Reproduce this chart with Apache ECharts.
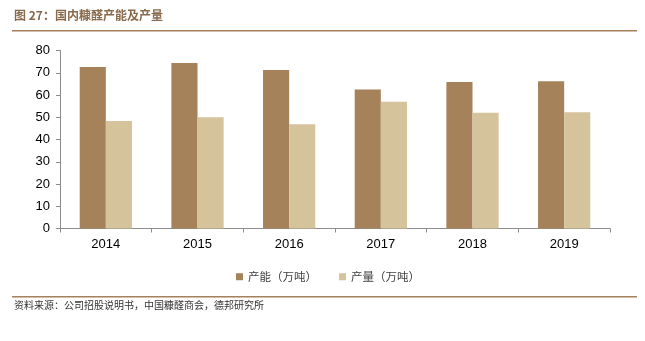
<!DOCTYPE html>
<html>
<head>
<meta charset="utf-8">
<script src="https://cdn.jsdelivr.net/npm/echarts@6/dist/echarts.min.js"></script>
<style>
  html, body { margin: 0; padding: 0; background: #fff; }
  #chart { width: 645px; height: 341px; }
</style>
</head>
<body>
<div id="chart"></div>
<script>
// Furfural capacity and output in China, 2014-2019 (10k tonnes)
const years = ['2014', '2015', '2016', '2017', '2018', '2019'];
const capacity = [72.6, 74.4, 71.2, 62.5, 65.8, 66.2];
const output = [48.3, 50.0, 46.9, 57.0, 52.0, 52.3];
const yTicks = [0, 10, 20, 30, 40, 50, 60, 70, 80];
const seriesNames = ['产能（万吨）', '产量（万吨）'];

const titleText = '图 27：国内糠醛产能及产量';
const sourceText = '资料来源：公司招股说明书，中国糠醛商会，德邦研究所';

const cjk = '"Noto Sans CJK SC", "Noto Sans", sans-serif';
const latin = '"Liberation Sans", Arial, sans-serif';

const chart = echarts.init(document.getElementById('chart'), null, { renderer: 'canvas' });

chart.setOption({
  animation: false,
  backgroundColor: '#ffffff',
  grid: { left: 60, right: 35, top: 50.5, bottom: 341 - 228.5, containLabel: false },
  legend: {
    data: seriesNames,
    left: 231,
    top: 266,
    icon: 'rect',
    itemWidth: 7,
    itemHeight: 7,
    itemGap: 22,
    textStyle: { fontFamily: cjk, fontSize: 11.5, color: '#404040' }
  },
  xAxis: {
    type: 'category',
    data: years,
    axisLine: { lineStyle: { color: '#8c8c8c', width: 1 } },
    axisTick: { show: true, alignWithLabel: false, length: 4, lineStyle: { color: '#8c8c8c' } },
    axisLabel: { fontFamily: latin, fontSize: 13, color: '#000', margin: 9 }
  },
  yAxis: {
    type: 'value',
    min: yTicks[0],
    max: yTicks[yTicks.length - 1],
    interval: 10,
    splitLine: { show: false },
    axisLine: { show: true, lineStyle: { color: '#8c8c8c', width: 1 } },
    axisTick: { show: true, length: 4, lineStyle: { color: '#8c8c8c' } },
    axisLabel: { fontFamily: latin, fontSize: 13, color: '#000', margin: 10 }
  },
  series: [
    {
      name: seriesNames[0],
      type: 'bar',
      data: capacity,
      barGap: '0%',
      barCategoryGap: '43%',
      itemStyle: { color: '#a5825a' }
    },
    {
      name: seriesNames[1],
      type: 'bar',
      data: output,
      itemStyle: { color: '#d5c39b' }
    }
  ],
  graphic: [
    {
      type: 'text',
      left: 14,
      top: 9.5,
      style: {
        text: titleText,
        font: 'bold 12px ' + cjk,
        fill: '#8a6a4c'
      }
    },
    {
      type: 'rect',
      shape: { x: 12, y: 30, width: 625, height: 1.5 },
      style: { fill: '#a58058' }
    },
    {
      type: 'rect',
      shape: { x: 12, y: 296, width: 625, height: 1.5 },
      style: { fill: '#a58058' }
    },
    {
      type: 'text',
      left: 14,
      top: 300,
      style: {
        text: sourceText,
        font: '10px ' + cjk,
        fill: '#333333'
      }
    }
  ]
});
</script>
</body>
</html>
